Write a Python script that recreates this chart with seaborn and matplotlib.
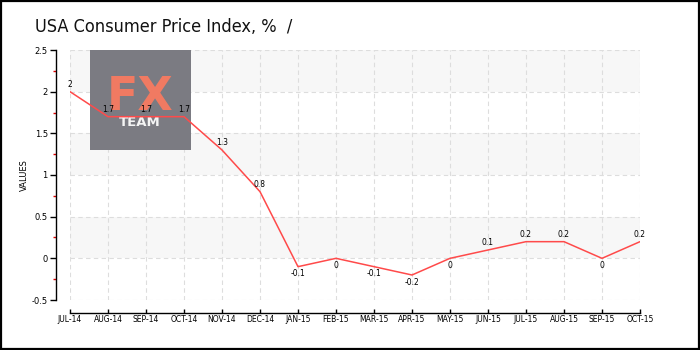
import matplotlib
matplotlib.use("Agg")
import matplotlib.pyplot as plt
import seaborn as sns
import pandas as pd
from matplotlib.patches import Rectangle
from matplotlib.ticker import MultipleLocator

months = ["JUL-14", "AUG-14", "SEP-14", "OCT-14", "NOV-14", "DEC-14", "JAN-15", "FEB-15",
          "MAR-15", "APR-15", "MAY-15", "JUN-15", "JUL-15", "AUG-15", "SEP-15", "OCT-15"]
cpi = [2, 1.7, 1.7, 1.7, 1.3, 0.8, -0.1, 0, -0.1, -0.2, 0, 0.1, 0.2, 0.2, 0, 0.2]
labels = ["2", "1.7", "1.7", "1.7", "1.3", "0.8", "-0.1", "0", "-0.1", "-0.2", "0", "0.1",
          "0.2", "0.2", "0", "0.2"]

sns.set_theme(style="white")
plt.rcParams["font.family"] = ["DejaVu Sans"]

df = pd.DataFrame({"pos": range(len(months)), "value": cpi})

fig = plt.figure(figsize=(7, 3.5), dpi=100)
fig.patch.set_facecolor("white")
fig.add_artist(Rectangle((0.0015, 0.002), 0.997, 0.995, transform=fig.transFigure,
                         fill=False, edgecolor="black", linewidth=1.6))

ax = fig.add_axes([70 / 700, 1 - 300 / 350, 570 / 700, 250 / 350])
ax.set_facecolor("white")

# alternating bands
for lo in (0, 1, 2):
    ax.axhspan(lo, lo + 0.5, color="#f7f7f7", zorder=0.1, linewidth=0)

# brand box
ax.add_patch(Rectangle((20 / 570, 150 / 250), 101 / 570, 100 / 250, transform=ax.transAxes,
                       facecolor="#7b7b82", edgecolor="none", zorder=0.6))
ax.text(70 / 570, 190 / 250, "FX", transform=ax.transAxes, ha="center", va="baseline",
        color="#f07a62", fontsize=33, fontweight="bold", zorder=0.7)
ax.text(70 / 570, 177.5 / 250, "TEAM", transform=ax.transAxes, ha="center", va="center",
        color="#f4f4f4", fontsize=9.5, fontweight="bold", zorder=0.7)

sns.lineplot(data=df, x="pos", y="value", ax=ax, color="#ff4a4a", linewidth=1.1,
             zorder=3)

for i, (v, t) in enumerate(zip(cpi, labels)):
    if v > 0:
        ax.annotate(t, (i, v), xytext=(0, 2), textcoords="offset points", ha="center",
                    va="bottom", fontsize=5.5, color="black", zorder=4)
    else:
        ax.annotate(t, (i, v), xytext=(0, -2), textcoords="offset points", ha="center",
                    va="top", fontsize=5.5, color="black", zorder=4)

ax.set_xlim(0, 15)
ax.set_ylim(-0.5, 2.5)
ax.set_xticks(range(len(months)))
ax.set_xticklabels(months)
ax.set_yticks([-0.5, 0, 0.5, 1, 1.5, 2, 2.5])
ax.set_yticklabels(["-0.5", "0", "0.5", "1", "1.5", "2", "2.5"])
ax.yaxis.set_minor_locator(MultipleLocator(0.25))

ax.set_axisbelow(True)
ax.grid(True, which="major", color="#dddddd", linestyle=(0, (4, 3)), linewidth=0.8)
for gl in ax.get_xgridlines() + ax.get_ygridlines():
    gl.set_zorder(0.25)

for s in ("top", "right"):
    ax.spines[s].set_visible(False)
ax.spines["left"].set_position(("outward", 10))
ax.spines["bottom"].set_position(("outward", 9))
ax.spines["left"].set_bounds(-0.5, 2.5)
ax.spines["bottom"].set_bounds(0, 15)
for s in ("left", "bottom"):
    ax.spines[s].set_color("black")
    ax.spines[s].set_linewidth(1.0)

ax.tick_params(axis="y", which="major", direction="out", length=4, width=1, colors="black",
               labelsize=6, pad=2, left=True)
ax.tick_params(axis="y", which="minor", direction="out", length=2.5, width=1, color="#e00000",
               left=True)
ax.tick_params(axis="x", which="major", direction="in", length=3, width=1, colors="black",
               labelsize=5.5, pad=2, bottom=True)

ax.set_xlabel("")
ax.set_ylabel("VALUES", fontsize=6, labelpad=2, color="black")

fig.text(35 / 700, 1 - 27 / 350, "USA Consumer Price Index, %  /", fontsize=13,
         ha="left", va="center", color="#111111", family=["DejaVu Sans"],
         fontstretch="condensed")

fig.savefig("out.png", dpi=100, facecolor="white")
